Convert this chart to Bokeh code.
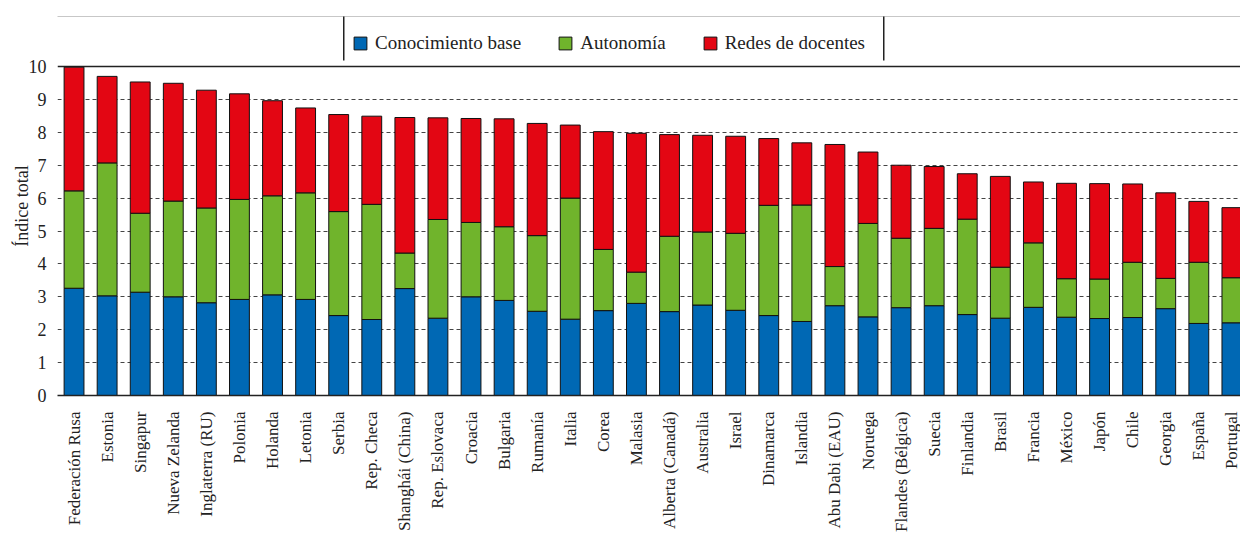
import numpy as np
from bokeh.plotting import figure
from bokeh.models import ColumnDataSource, Range1d, FixedTicker, Span, BoxAnnotation
from bokeh.embed import file_html
from bokeh.resources import INLINE

countries = ["Federación Rusa", "Estonia", "Singapur", "Nueva Zelanda", "Inglaterra (RU)",
             "Polonia", "Holanda", "Letonia", "Serbia", "Rep. Checa", "Shanghái (China)",
             "Rep. Eslovaca", "Croacia", "Bulgaria", "Rumanía", "Italia", "Corea", "Malasia",
             "Alberta (Canadá)", "Australia", "Israel", "Dinamarca", "Islandia",
             "Abu Dabi (EAU)", "Noruega", "Flandes (Bélgica)", "Suecia", "Finlandia",
             "Brasil", "Francia", "México", "Japón", "Chile", "Georgia", "España", "Portugal"]

conocimiento = [3.26, 3.03, 3.14, 3.00, 2.82, 2.92, 3.06, 2.92, 2.43, 2.31, 3.25, 2.35,
                3.00, 2.89, 2.56, 2.32, 2.58, 2.80, 2.55, 2.75, 2.59, 2.43, 2.25, 2.73,
                2.39, 2.67, 2.73, 2.46, 2.35, 2.68, 2.38, 2.34, 2.37, 2.64, 2.19, 2.21]
autonomia = [2.96, 4.04, 2.40, 2.91, 2.88, 3.04, 3.01, 3.24, 3.16, 3.50, 1.08, 3.00,
             2.26, 2.24, 2.30, 3.68, 1.86, 0.95, 2.29, 2.22, 2.34, 3.35, 3.54, 1.19,
             2.84, 2.11, 2.35, 2.90, 1.55, 1.96, 1.17, 1.20, 1.68, 0.92, 1.86, 1.37]
redes = [3.76, 2.63, 3.99, 3.58, 3.58, 3.21, 2.89, 2.58, 2.95, 2.68, 4.12, 3.09,
         3.16, 3.28, 3.41, 2.22, 3.58, 4.22, 3.09, 2.94, 2.95, 2.03, 1.89, 3.71,
         2.17, 2.22, 1.88, 1.38, 2.76, 1.85, 2.90, 2.90, 2.38, 2.60, 1.85, 2.13]

series = ["Conocimiento base", "Autonomía", "Redes de docentes"]
colors = ["#0068b4", "#70b42c", "#e30613"]
y_ticks = list(range(0, 11))

FONT = "Liberation Serif"
TXT = "#222222"

idx = list(range(len(countries)))
src = ColumnDataSource(dict(x=idx, base=conocimiento, aut=autonomia, red=redes))

W, H = 1240, 536
p = figure(width=W, height=H, output_backend="svg", toolbar_location=None,
           x_range=Range1d(-0.5, 35.26), y_range=Range1d(0, 11.52),
           min_border_left=57, min_border_right=0, min_border_top=16, min_border_bottom=141)
p.outline_line_alpha = 0
p.background_fill_color = "white"

p.vbar_stack(["base", "aut", "red"], x="x", width=0.6, source=src,
             fill_color=colors, line_color="#111111", line_width=1,
             legend_label=series)

# axes
p.xaxis.ticker = FixedTicker(ticks=idx)
p.xaxis.major_label_overrides = {i: c for i, c in enumerate(countries)}
p.xaxis.major_label_orientation = np.pi / 2
p.xaxis.major_label_text_font = FONT
p.xaxis.major_label_text_font_style = "normal"
p.xaxis.major_label_text_font_size = "17px"
p.xaxis.major_label_text_color = TXT
p.xaxis.major_label_standoff = 10
p.xaxis.major_tick_line_alpha = 0
p.xaxis.minor_tick_line_alpha = 0
p.xaxis.axis_line_color = "#222222"
p.xaxis.axis_line_width = 1.5

p.yaxis.ticker = FixedTicker(ticks=y_ticks)
p.yaxis.major_label_text_font = FONT
p.yaxis.major_label_text_font_style = "normal"
p.yaxis.major_label_text_font_size = "18px"
p.yaxis.major_label_text_color = TXT
p.yaxis.major_label_standoff = 5
p.yaxis.major_tick_line_alpha = 0
p.yaxis.minor_tick_line_alpha = 0
p.yaxis.axis_line_alpha = 0
p.yaxis.axis_label = "Índice total"
p.yaxis.axis_label_text_font = FONT
p.yaxis.axis_label_text_font_size = "18px"
p.yaxis.axis_label_text_font_style = "normal"
p.yaxis.axis_label_text_color = TXT
p.yaxis.axis_label_standoff = -6

p.xgrid.visible = False
p.ygrid.ticker = FixedTicker(ticks=y_ticks[1:-1])
p.ygrid.grid_line_color = "#444444"
p.ygrid.grid_line_dash = "4 3"
p.ygrid.grid_line_width = 1

p.add_layout(Span(location=y_ticks[-1], dimension="width", line_color="#222222",
                  line_width=1.5, level="underlay"))

# legend
lg = p.legend[0]
lg.orientation = "horizontal"
lg.location = (295, 341)
lg.padding = 0
lg.margin = 0
lg.spacing = 36
lg.label_standoff = 7
lg.glyph_width = 16
lg.glyph_height = 16
lg.label_height = 16
lg.label_text_font = FONT
lg.label_text_font_style = "normal"
lg.label_text_font_size = "19px"
lg.label_text_color = TXT
lg.border_line_alpha = 0
lg.background_fill_alpha = 0

# decorative rules (top rule and legend box sides)
def rule(l, r, t, b):
    return BoxAnnotation(left=l, right=r, top=t, bottom=b,
                         left_units="canvas", right_units="canvas",
                         top_units="canvas", bottom_units="canvas",
                         fill_color="#222222", fill_alpha=1, line_alpha=0)

p.add_layout(rule(8, W, 14, 16))
p.add_layout(rule(342.5, 344, 15, 60))
p.add_layout(rule(882.5, 884, 15, 60))

open("out.html", "w").write(file_html(p, INLINE))
